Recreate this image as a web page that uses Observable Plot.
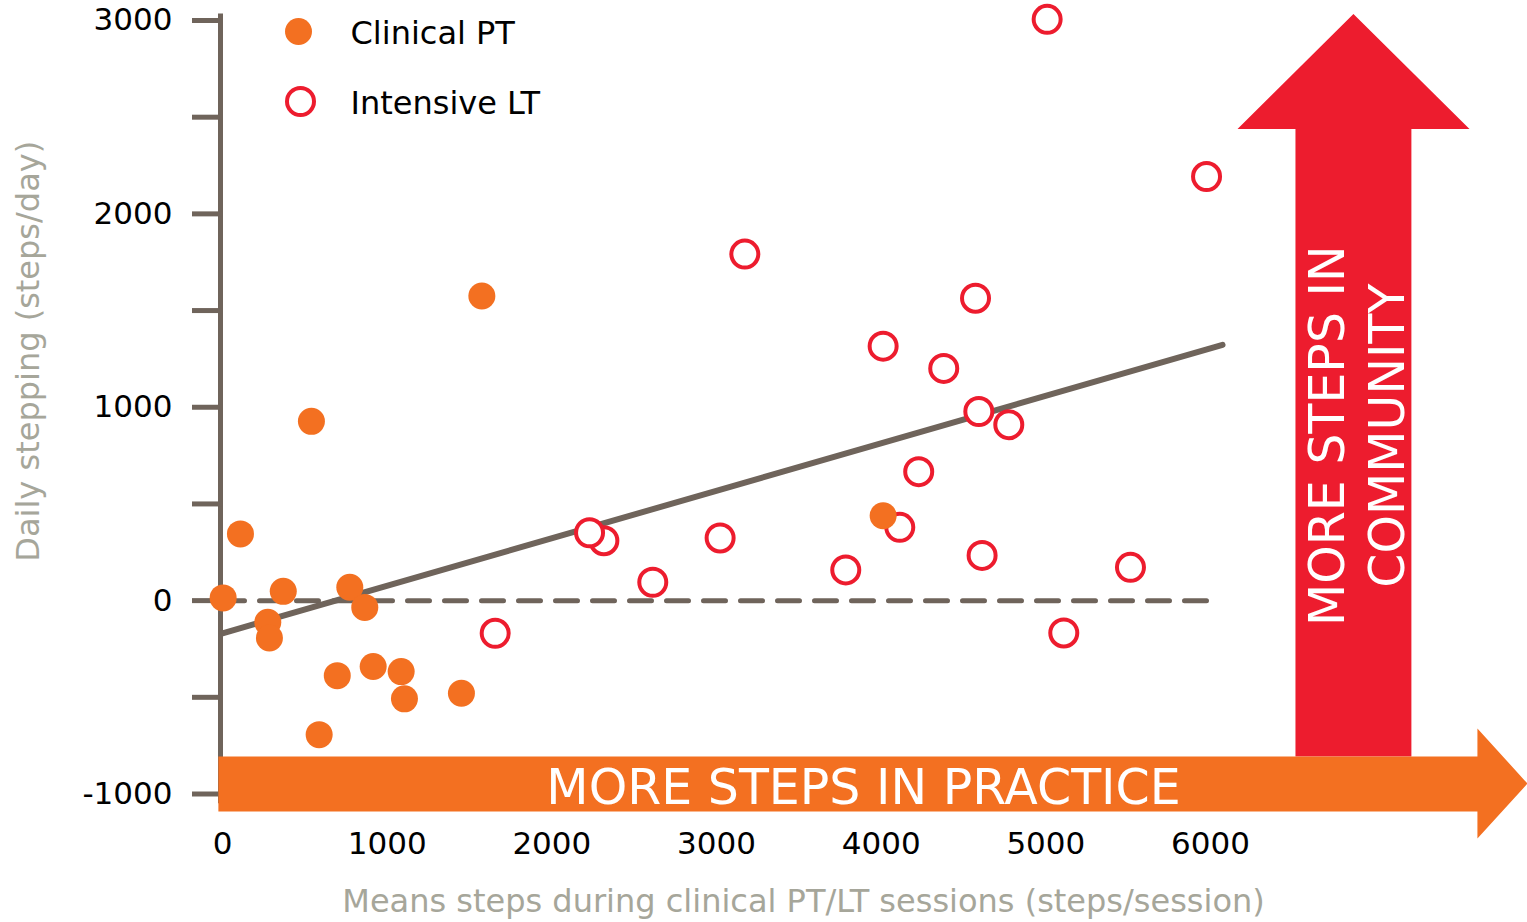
<!DOCTYPE html>
<html>
<head>
<meta charset="utf-8">
<script src="https://cdn.jsdelivr.net/npm/d3@7"></script>
<script src="https://cdn.jsdelivr.net/npm/@observablehq/plot@0.6"></script>
<style>
html, body { margin: 0; padding: 0; background: #fff; }
#chart svg { display: block; }
</style>
</head>
<body>
<div id="chart"></div>
<script>
// ---- data ----
const clinicalX = [4, 109, 369, 275, 285, 540, 587, 697, 773, 864, 915, 1085, 1105, 1451, 1575, 4012];
const clinicalY = [14, 345, 48, -112, -193, 927, -693, -388, 69, -35, -341, -367, -508, -479, 1575, 439];

const intensiveX = [1656, 2316, 2229, 2613, 3022, 3172, 3785, 4012, 4113, 4228, 4380, 4573, 4775, 4593, 4613, 5008, 5109, 5514, 5976];
const intensiveY = [-169, 310, 351, 95, 324, 1792, 159, 1316, 379, 667, 1201, 1564, 910, 978, 234, 3006, -167, 172, 2193];

const fitX = [0, 6073];
const fitY = [-169, 1323];

const zeroX = [0, 6000];
const zeroY = [0, 0];

const xTicks = [0, 1000, 2000, 3000, 4000, 5000, 6000];
const yTicks = [-1000, 0, 1000, 2000, 3000];
const yMinorTicks = [-1000, -500, 0, 500, 1000, 1500, 2000, 2500, 3000];

const seriesNames = ["Clinical PT", "Intensive LT"];
const xTitle = "Means steps during clinical PT/LT sessions (steps/session)";
const yTitle = "Daily stepping (steps/day)";
const practiceLabel = "MORE STEPS IN PRACTICE";
const communityLabel = "MORE STEPS IN\nCOMMUNITY";

// annotation arrows (in data units)
const orangeArrowX = [-25, 7621, 7621, 7925, 7621, 7621, -25];
const orangeArrowY = [-806, -806, -661, -946, -1230, -1090, -1090];
const redArrowX = [6516, 6516, 6164, 6868, 7573, 7220, 7220];
const redArrowY = [-806, 2439, 2439, 3034, 2439, 2439, -806];

// ---- build ----
const ORANGE = "#f37021", RED = "#ed1c2e", AXIS = "#6f645b", TITLE = "#a6a69a";
const zip = (xs, ys) => xs.map((x, i) => ({x, y: ys[i]}));
const clinical = zip(clinicalX, clinicalY);
const intensive = zip(intensiveX, intensiveY);
const fit = zip(fitX, fitY);
const zero = zip(zeroX, zeroY);
const orangeArrow = zip(orangeArrowX, orangeArrowY);
const redArrow = zip(redArrowX, redArrowY);

const plot = Plot.plot({
  width: 1527,
  height: 922,
  marginLeft: 222,
  marginRight: 317,
  marginTop: 20,
  marginBottom: 128.5,
  x: {domain: [0, 6000]},
  y: {domain: [-1000, 3000]},
  style: {fontFamily: "'DejaVu Sans', Verdana, sans-serif", fontSize: "31px", color: "black", background: "white", overflow: "visible"},
  marks: [
    Plot.ruleX([0], {y1: -1050, y2: 3034, stroke: AXIS, strokeWidth: 5, dx: -2}),
    Plot.axisY({ticks: yMinorTicks, tickSize: 30, tickFormat: () => "", stroke: AXIS, strokeWidth: 5, label: null}),
    Plot.axisY({ticks: yTicks, tickSize: 0, tickPadding: 50, tickFormat: d => String(d), label: null, fontSize: 31}),
    Plot.axisX({ticks: xTicks, tickSize: 0, tickPadding: 38, tickFormat: d => String(d), label: null, fontSize: 31}),
    Plot.line(redArrow, {x: "x", y: "y", fill: RED, stroke: "none"}),
    Plot.line(orangeArrow, {x: "x", y: "y", fill: ORANGE, stroke: "none"}),
    Plot.line(zero, {x: "x", y: "y", stroke: AXIS, strokeWidth: 5, strokeDasharray: "22,15"}),
    Plot.line(fit, {x: "x", y: "y", stroke: AXIS, strokeWidth: 6}),
    Plot.dot(intensive, {x: "x", y: "y", r: 13.5, stroke: RED, strokeWidth: 4, fill: "white"}),
    Plot.dot(clinical, {x: "x", y: "y", r: 13.5, fill: ORANGE, stroke: "none"}),
    // arrow labels
    Plot.text([practiceLabel], {x: 3893, y: -969, text: d => d, fill: "white", fontSize: 49, textAnchor: "middle", lineAnchor: "middle"}),
    Plot.text([communityLabel], {x: 6874, y: 853, text: d => d, fill: "white", fontSize: 49, rotate: -90, lineHeight: 1.23, textAnchor: "middle", lineAnchor: "middle"}),
    // axis titles
    Plot.text([xTitle], {frameAnchor: "bottom", dx: 87, dy: 108, text: d => d, fill: TITLE, fontSize: 32, textAnchor: "middle", lineAnchor: "middle"}),
    Plot.text([yTitle], {frameAnchor: "left", dx: -194, dy: -56, text: d => d, fill: TITLE, fontSize: 32, rotate: -90, textAnchor: "middle", lineAnchor: "middle"}),
    // legend
    Plot.dot([seriesNames[0]], {frameAnchor: "top-left", dx: 76, dy: 11, r: 13.5, fill: ORANGE, stroke: "none"}),
    Plot.dot([seriesNames[1]], {frameAnchor: "top-left", dx: 78, dy: 81, r: 13.5, fill: "white", stroke: RED, strokeWidth: 4}),
    Plot.text([seriesNames[0]], {frameAnchor: "top-left", dx: 128, dy: 13, text: d => d, fontSize: 32, textAnchor: "start", lineAnchor: "middle", fill: "black"}),
    Plot.text([seriesNames[1]], {frameAnchor: "top-left", dx: 128, dy: 83, text: d => d, fontSize: 32, textAnchor: "start", lineAnchor: "middle", fill: "black"})
  ]
});
document.getElementById("chart").appendChild(plot);
</script>
</body>
</html>
